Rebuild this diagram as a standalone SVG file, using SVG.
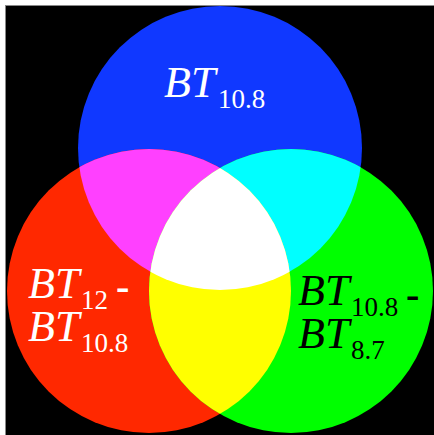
<svg xmlns="http://www.w3.org/2000/svg" width="434" height="435" viewBox="0 0 434 435">
<style>
.lbl{font-family:"Liberation Serif","Times New Roman",serif;}
.it{font-style:italic;font-size:44px;}
.sub{font-size:27px;}
.hy{font-size:40px;font-weight:bold;}
.w{fill:#fff;}
.k{fill:#000;}
</style>
<defs>
<clipPath id="cB"><circle cx="220" cy="148" r="142"/></clipPath>
<clipPath id="cR"><circle cx="149" cy="291" r="142"/></clipPath>
<clipPath id="cG"><circle cx="291" cy="291" r="142"/></clipPath>
</defs>
<rect x="0" y="0" width="434" height="435" fill="#fff"/>
<rect x="5" y="5" width="429" height="430" fill="#888"/>
<rect x="6" y="6" width="428" height="429" fill="#000"/>
<g id="blue"><circle cx="220" cy="148" r="142" fill="#1038FF"/></g>
<g id="red"><circle cx="149" cy="291" r="142" fill="#FF2800"/></g>
<g id="green"><circle cx="291" cy="291" r="142" fill="#00FF00"/></g>
<g id="overlaps">
<g clip-path="url(#cB)"><circle cx="149" cy="291" r="142" fill="#FF40FF"/><circle cx="291" cy="291" r="142" fill="#00FFFF"/></g>
<g clip-path="url(#cR)"><circle cx="291" cy="291" r="142" fill="#FFFF00"/></g>
<g clip-path="url(#cR)"><g clip-path="url(#cG)"><circle cx="220" cy="148" r="142" fill="#FFFFFF"/></g></g>
</g>
<g id="label-blue" class="lbl w">
<text x="164" y="97" class="it">BT</text>
<text x="218" y="108" class="sub">10.8</text>
</g>
<g id="label-red" class="lbl w">
<text x="28" y="298" class="it">BT</text>
<text x="81" y="309" class="sub">12</text>
<text x="116" y="300" class="hy">-</text>
<text x="28" y="341" class="it">BT</text>
<text x="81" y="352" class="sub">10.8</text>
</g>
<g id="label-green" class="lbl k">
<text x="298" y="305" class="it">BT</text>
<text x="351" y="316" class="sub">10.8</text>
<text x="406" y="308" class="hy">-</text>
<text x="298" y="348" class="it">BT</text>
<text x="351" y="359" class="sub">8.7</text>
</g>
</svg>
